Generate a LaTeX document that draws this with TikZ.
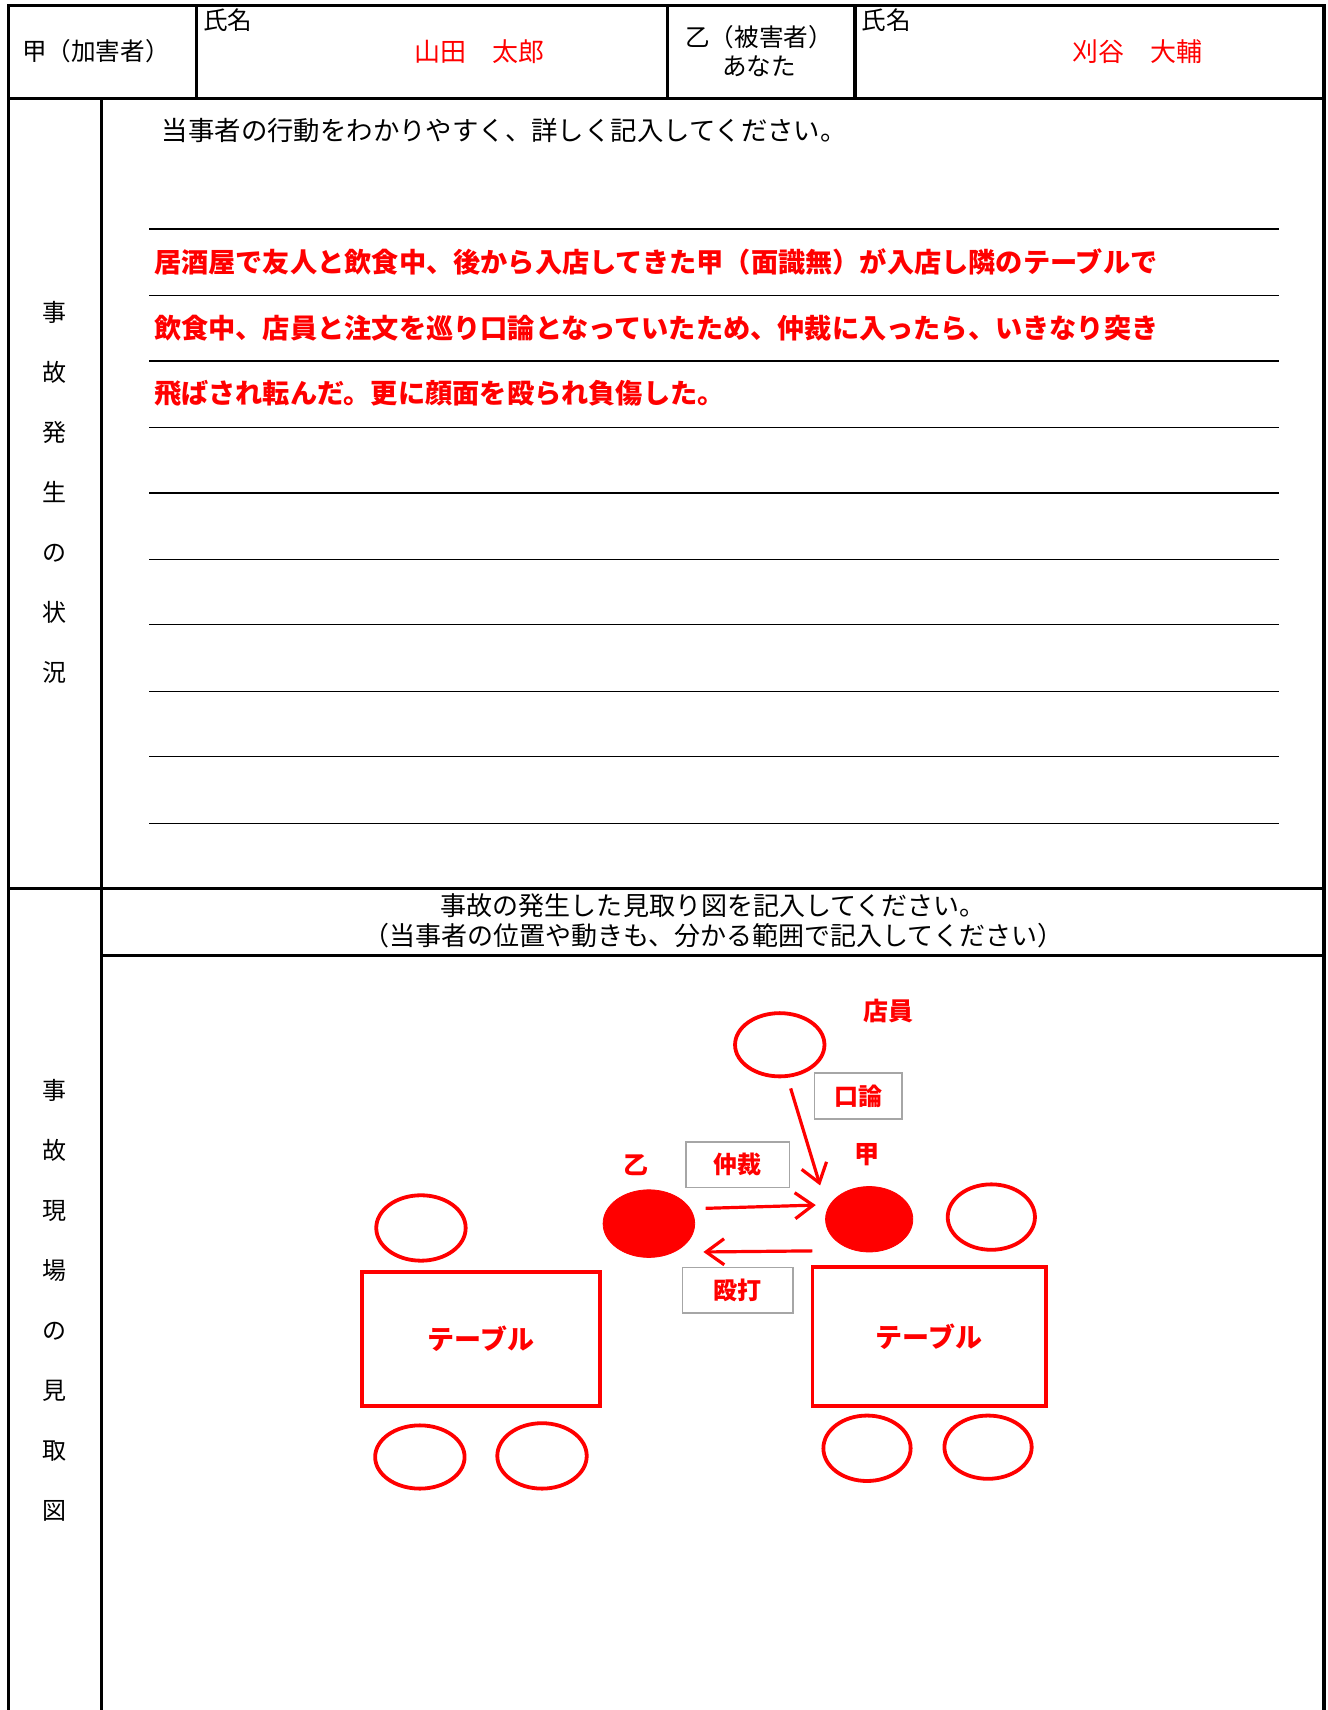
\documentclass[tikz,border=0pt]{standalone}
\usepackage{fontspec}
\setmainfont{Noto Sans CJK JP}
\usetikzlibrary{arrows.meta,shapes.geometric}
\definecolor{rd}{RGB}{255,0,0}
\newcommand{\pxu}{0.5452pt}
\begin{document}
\begin{tikzpicture}[x=0.5452pt,y=-0.5452pt,
  frame/.style={line width=1.6pt},
  thinrule/.style={line width=0.6pt},
  blk/.style={inner sep=0pt,font=\fontsize{12.3}{14.7}\selectfont},
  redline/.style={inner sep=0pt,anchor=west,text=rd,font=\fontsize{13.6}{16}\selectfont\bfseries},
  vcol/.style={inner sep=0pt,align=center,font=\fontsize{12}{30}\selectfont},
  seat/.style={ellipse,draw=rd,line width=1.9pt,inner sep=0pt},
  person/.style={ellipse,fill=rd,draw=rd,inner sep=0pt},
  tablebox/.style={draw=rd,line width=1.9pt,inner sep=0pt,text=rd,font=\fontsize{13.5}{16}\selectfont\bfseries},
  lblbox/.style={draw=gray!70,line width=0.7pt,fill=white,inner sep=0pt,text=rd,font=\fontsize{12}{14}\selectfont\bfseries},
  redlbl/.style={inner sep=0pt,text=rd,font=\fontsize{12.5}{14}\selectfont\bfseries},
  arr/.style={draw=rd,line width=1.6pt,-{Straight Barb[length=9pt,width=13pt,line width=1.6pt]}}]
\useasboundingbox (0,0) rectangle (1217,1568);
% ---- frame
\draw[frame] (8,1568) -- (8,5) -- (1214,5) -- (1214,1568);
\draw[frame] (8,90) -- (1214,90);
\draw[frame] (180,5) -- (180,90);
\draw[frame] (612,5) -- (612,90);
\draw[frame] (784,5) -- (784,90);
\draw[line width=1.3pt] (93,90) -- (93,1568);
\draw[frame] (8,815) -- (1214,815);
\draw[frame] (93,876) -- (1214,876);
% ---- header texts
\node[blk] (kou) at (88,47) {甲（加害者）};
\node[blk,anchor=north west] (shimei1) at (186,8) {氏名};
\node[blk,text=rd,font=\fontsize{13}{15}\selectfont] (name1) at (440,47) {山田　太郎};
\node[blk,align=center] (otsu) at (696,47) {乙（被害者）\\あなた};
\node[blk,anchor=north west] (shimei2) at (790,8) {氏名};
\node[blk,text=rd,font=\fontsize{13}{15}\selectfont] (name2) at (1043,47) {刈谷　大輔};
% ---- section 1
\node[vcol] (v1) at (50,451.5) {事\\故\\発\\生\\の\\状\\況};
\node[blk,anchor=west,font=\fontsize{13.2}{15}\selectfont] (inst1) at (148,120) {当事者の行動をわかりやすく、詳しく記入してください。};
\foreach \yy in {210,271,331,392,452,513,573,634,694,755}
  \draw[thinrule] (137,\yy) -- (1173,\yy);
\node[redline] (l1) at (141,240) {居酒屋で友人と飲食中、後から入店してきた甲（面識無）が入店し隣のテーブルで};
\node[redline] (l2) at (141,301) {飲食中、店員と注文を巡り口論となっていたため、仲裁に入ったら、いきなり突き};
\node[redline] (l3) at (141,361) {飛ばされ転んだ。更に顔面を殴られ負傷した。};
% ---- section 2
\node[blk,align=center,font=\fontsize{13}{14.7}\selectfont] (inst2) at (654,844.5) {事故の発生した見取り図を記入してください。\\（当事者の位置や動きも、分かる範囲で記入してください）};
\node[vcol] (v2) at (50,1192) {事\\故\\現\\場\\の\\見\\取\\図};
% ---- sketch
\node[redlbl] (tenin) at (815,927) {店員};
\node[seat,minimum width=82*\pxu,minimum height=58*\pxu] (ten) at (715,958) {};
\node[lblbox,minimum width=80*\pxu,minimum height=42*\pxu] (koron) at (787,1005) {口論};
\node[redlbl] (kolbl) at (795,1059) {甲};
\node[redlbl] (otlbl) at (583,1068) {乙};
\node[lblbox,minimum width=95*\pxu,minimum height=42*\pxu] (chusai) at (676.5,1068) {仲裁};
\node[person,minimum width=84*\pxu,minimum height=62*\pxu] (otsuP) at (595,1122) {};
\node[person,minimum width=80*\pxu,minimum height=60*\pxu] (kouP) at (797,1118) {};
\node[seat,minimum width=80*\pxu,minimum height=60*\pxu] (s1) at (909,1116) {};
\node[lblbox,minimum width=101*\pxu,minimum height=42*\pxu] (oda) at (676.5,1183) {殴打};
\node[tablebox,minimum width=218*\pxu,minimum height=123*\pxu] (tblL) at (441,1227.5) {テーブル};
\node[tablebox,minimum width=214*\pxu,minimum height=127*\pxu] (tblR) at (852,1225.5) {テーブル};
\node[seat,minimum width=82*\pxu,minimum height=60*\pxu] (s2) at (386,1126) {};
\node[seat,minimum width=82*\pxu,minimum height=58*\pxu] (s3) at (385,1336) {};
\node[seat,minimum width=82*\pxu,minimum height=60*\pxu] (s4) at (497,1335) {};
\node[seat,minimum width=80*\pxu,minimum height=60*\pxu] (s5) at (795,1328) {};
\node[seat,minimum width=80*\pxu,minimum height=58*\pxu] (s6) at (906,1327) {};
\coordinate (a1s) at (725,998);
\coordinate (a1e) at (752,1087);
\coordinate (a2s) at (647,1108);
\coordinate (a2e) at (748,1105);
\coordinate (a3s) at (745,1147);
\coordinate (a3e) at (645,1148);
\draw[arr] (a1s) -- (a1e);
\draw[arr] (a2s) -- (a2e);
\draw[arr] (a3s) -- (a3e);
\end{tikzpicture}
\end{document}
